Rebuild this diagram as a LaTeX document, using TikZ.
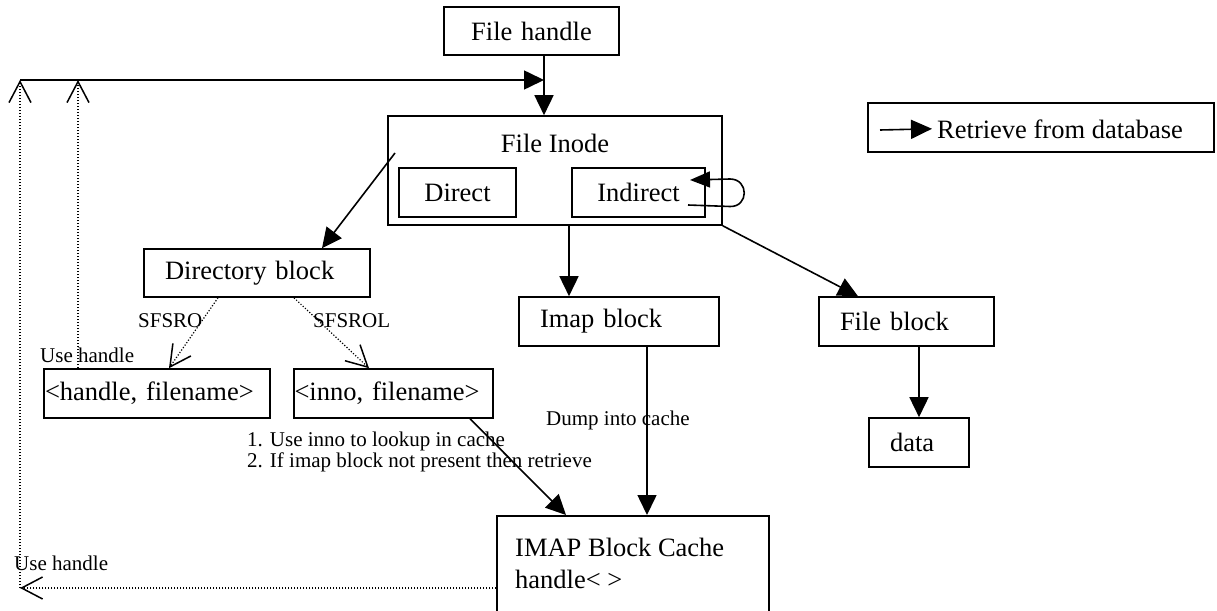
\documentclass[tikz,border=0pt]{standalone}
\usepackage{fontspec}
\setmainfont{Liberation Serif}
\usetikzlibrary{arrows.meta}
\newcommand\bigtxt{\fontsize{26.5}{32}\selectfont}
\newcommand\smalltxt{\fontsize{21}{18}\selectfont}
\tikzset{
  box/.style={draw, line width=1.6pt, inner sep=0pt, font=\bigtxt},
  cbox/.style n args={2}{box, text width=#1pt, minimum height=#2pt, align=center},
  lbox/.style n args={3}{box, text width=#1pt-2*#3pt, inner xsep=#3pt, minimum height=#2pt, align=left},
  arr/.style={line width=1.6pt, -{Triangle[length=20pt,width=19pt]}},
  dots/.style={line width=1.2pt, dash pattern=on 1.2pt off 1.8pt,
    -{Straight Barb[length=21pt,width=22pt,line width=1.5pt]}},
  note/.style={inner sep=0pt, font=\smalltxt, anchor=base west, align=left},
}
\begin{document}
\begin{tikzpicture}[x=1pt, y=-1pt]
\useasboundingbox (0,0) rectangle (1217,610);
\clip (0,0) rectangle (1217,610);

% boxes
\node[cbox={175}{48}] (fh) at (531.5,31) {File handle};
\node[box, minimum width=334pt, minimum height=109pt,
      label={[font=\bigtxt, anchor=north, inner sep=0pt, yshift=-19pt]north:File Inode}]
      (inode) at (555,170.5) {};
\node[cbox={117}{49}] (direct) at (457.5,192.5) {Direct};
\node[cbox={133}{49}] (indirect) at (638.5,192.5) {Indirect};
\node[lbox={226}{48}{21}] (dir) at (257,273) {Directory block};
\node[lbox={226}{49}{1}] (hf) at (157,393.5) {<handle, filename>};
\node[lbox={199}{49}{0.5}] (inof) at (393.5,393.5) {<inno, filename>};
\node[lbox={200}{49}{21}] (imap) at (619,321.5) {Imap block};
\node[lbox={175}{49}{21}] (fblock) at (906.5,321.5) {File block};
\node[lbox={100}{49}{21}] (data) at (919,442.5) {data};
\node[box, anchor=north west, minimum width=272pt, minimum height=140pt,
      label={[font=\bigtxt, anchor=north west, align=left, inner sep=0pt,
              shift={(19pt,-23pt)}]north west:{IMAP Block Cache\\handle< >}}]
      (cache) at (496,515) {};

% legend
\node[box, minimum width=346pt, minimum height=49pt] (legend) at (1041,127.5) {};
\node[inner sep=0pt, font=\bigtxt, anchor=base west] (legtxt) at (937,138) {Retrieve from database};
\coordinate (legA) at (880,130);
\draw[arr, -{Triangle[length=21pt,width=19pt]}] (legA) -- (legtxt.west -| 932,0);

% handle lookup path along the top
\coordinate (c1) at (20,80);
\coordinate (c2) at (78,80);
\coordinate (c3) at (20,588);
\coordinate (j) at (544,80);
\draw[line width=1.6pt] (c1) -- (c2);
\draw[arr] (c2) -- (j);
\draw[arr] (fh.south -| j) -- (inode.north -| j);

% dotted "use handle" returns
\draw[dots] (hf.north -| c2) -- (c2);
\draw[dots] (c3) -- (c1);
\draw[dots] (cache.west |- c3) -- (c3);

% inode connections
\coordinate (inDir) at (395,153);
\draw[arr] (inDir) -- (dir.north -| 322,0);
\draw[arr] (inode.south -| 569,0) -- (imap.north -| 569,0);
\draw[arr] (inode.south east) -- (fblock.north -| 858,0);
\draw[arr] (fblock.south -| data.north) -- (data.north);

% indirect self loop
\coordinate (loopS) at (688,205);
\coordinate (loopE) at (690,180);
\draw[line width=1.6pt, -{Triangle[length=20pt,width=16pt]}]
  (loopS) -- (730,206.5) .. controls (749,207) and (749,179) .. (730,179) -- (loopE);

% directory entries
\draw[dots] (dir.south -| 218,0) -- (hf.north -| 169,0);
\draw[dots] (dir.south -| 294,0) -- (inof.north -| 369,0);

% cache fill
\draw[arr] (imap.south -| 647,0) -- (cache.north -| 647,0);
\draw[arr] (inof.south -| 470,0) -- (cache.north -| 566,0);

% text labels
\node[note] (lsfsro) at (138,327) {SFSRO};
\node[note] (lsfsrol) at (313,327) {SFSROL};
\node[note] (luse1) at (40,362) {Use handle};
\node[note] (ldump) at (546,425) {Dump into cache};
\node[note] (lsteps) at (247,467) {1. Use inno to lookup in cache\\2. If imap block not present then retrieve};
\node[note] (luse2) at (14,570) {Use handle};
\end{tikzpicture}
\end{document}
